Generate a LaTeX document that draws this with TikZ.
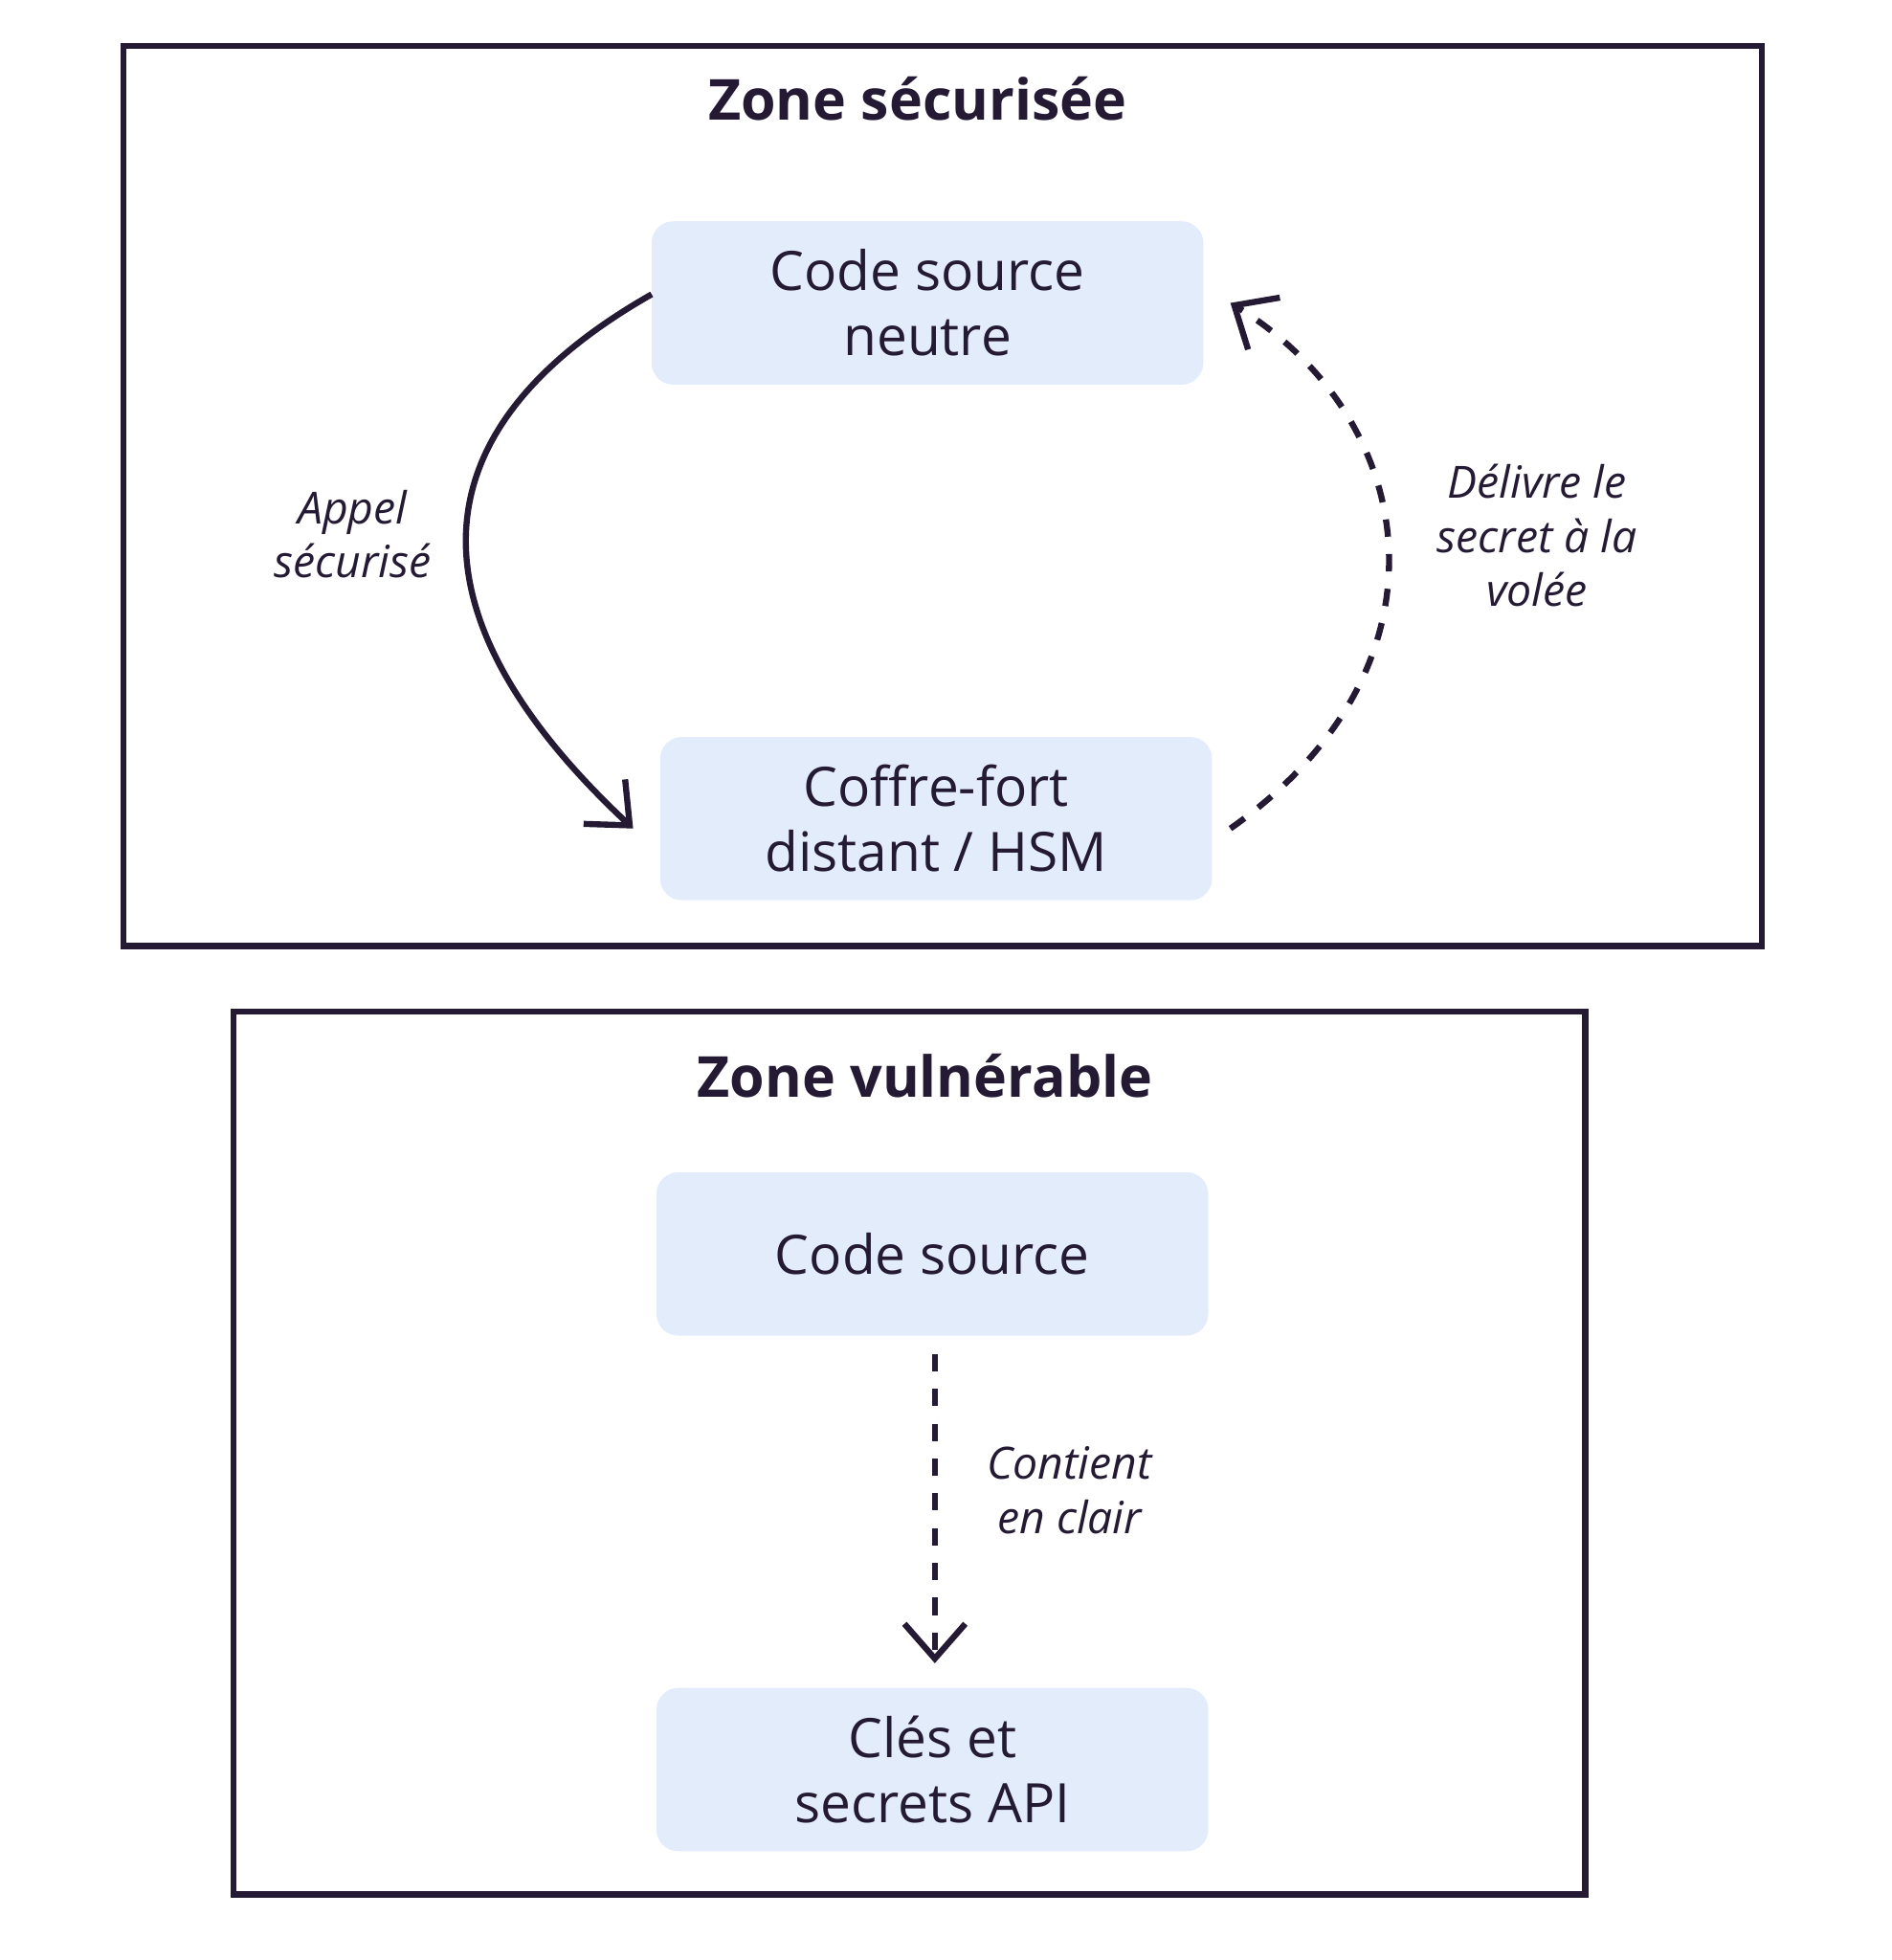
\documentclass[tikz,border=0pt]{standalone}
\usepackage{fontspec}
\setmainfont{Open Sans}
\usetikzlibrary{arrows.meta}
\definecolor{ink}{HTML}{241A33}
\definecolor{boxfill}{HTML}{E3ECFA}
\begin{document}
\begin{tikzpicture}[x=0.01cm,y=-0.01cm,
  zone/.style={draw=ink,line width=1.4pt},
  box/.style={fill=boxfill,rounded corners=5pt,minimum width=4.46cm,minimum height=1.32cm,align=center,text=ink,font=\fontsize{12.5}{15}\selectfont},
  title/.style={text=ink,font=\fontsize{13}{15}\selectfont\bfseries},
  lab/.style={text=ink,align=center,font=\fontsize{10.2}{12.5}\selectfont\itshape},
  arr/.style={draw=ink,line width=1.4pt,-{Straight Barb[length=8pt,width=14pt,line width=1.4pt]}},
  dashline/.style={dash pattern=on 4pt off 4pt}]
\useasboundingbox (0,0) rectangle (1530,1585);
\draw[zone] (100,37) rectangle (1425,765);
\node[title] (t1) at (742,80) {Zone sécurisée};
\node[box] (a) at (750,245) {Code source\\neutre};
\node[box] (b) at (757,662) {Coffre-fort\\distant / HSM};
\coordinate (a1) at (527,238);
\coordinate (b1) at (512,670);
\draw[arr] (a1) .. controls (330,350) and (330,500) .. (b1);
\node[lab] (l1) at (285,432) {Appel\\sécurisé};
\coordinate (b2) at (995,670);
\coordinate (a2) at (995,245);
\draw[arr,dashline] (b2) .. controls (1180,540) and (1150,340) .. (a2);
\node[lab] (l2) at (1243,433) {Délivre le\\secret à la\\volée};
\draw[zone] (189,818) rectangle (1282,1532);
\node[title] (t2) at (748,870) {Zone vulnérable};
\node[box] (c) at (754,1014) {Code source};
\node[box] (d) at (754,1431) {Clés et\\secrets API};
\coordinate (c1) at (756,1095);
\coordinate (d1) at (756,1345);
\draw[arr,dashline] (c1) -- (d1);
\node[lab] (l3) at (865,1205) {Contient\\en clair};
\end{tikzpicture}
\end{document}
